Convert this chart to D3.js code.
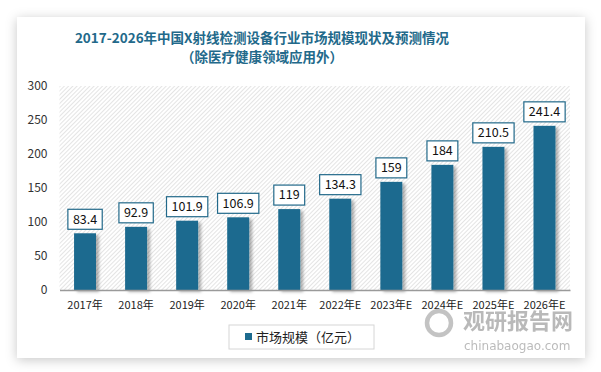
<!DOCTYPE html>
<html>
<head>
<meta charset="utf-8">
<script src="https://cdn.jsdelivr.net/npm/d3@7"></script>
<style>
  body { margin: 0; background: #fff; }
  svg { display: block; }
</style>
</head>
<body>
<div id="chart"></div>
<script>
// data
var years = ["2017年", "2018年", "2019年", "2020年", "2021年", "2022年E", "2023年E", "2024年E", "2025年E", "2026年E"];
var marketSize = [83.4, 92.9, 101.9, 106.9, 119, 134.3, 159, 184, 210.5, 241.4];
var yTicks = [0, 50, 100, 150, 200, 250, 300];
var seriesName = "市场规模（亿元）";
var titleLines = ["2017-2026年中国X射线检测设备行业市场规模现状及预测情况", "（除医疗健康领域应用外）"];

var svgWidth = 601, svgHeight = 372;
var margin = { top: 86, right: 31, bottom: 82, left: 59.5 };
var width = svgWidth - margin.left - margin.right;
var height = svgHeight - margin.top - margin.bottom;
var font = "'Microsoft YaHei', 'Noto Sans CJK SC', sans-serif";

var svg = d3.select("#chart").append("svg")
  .attr("width", svgWidth)
  .attr("height", svgHeight);

var defs = svg.append("defs");

// card shadow
var cs = defs.append("filter").attr("id", "cardShadow")
  .attr("x", "-10%").attr("y", "-10%").attr("width", "120%").attr("height", "120%");
cs.append("feDropShadow").attr("dx", 0).attr("dy", 2).attr("stdDeviation", 6)
  .attr("flood-color", "#000").attr("flood-opacity", 0.22);

// bar shadow
var bs = defs.append("filter").attr("id", "barShadow")
  .attr("x", "-30%").attr("y", "-10%").attr("width", "160%").attr("height", "120%");
bs.append("feDropShadow").attr("dx", 3).attr("dy", 2).attr("stdDeviation", 1.5)
  .attr("flood-color", "#000").attr("flood-opacity", 0.3);

// diagonal hatch
var pat = defs.append("pattern").attr("id", "hatch")
  .attr("patternUnits", "userSpaceOnUse")
  .attr("width", 3).attr("height", 3)
  .attr("patternTransform", "rotate(45)");
pat.append("rect").attr("width", 3).attr("height", 3).attr("fill", "#fff");
pat.append("line").attr("x1", 0).attr("y1", 0).attr("x2", 0).attr("y2", 3)
  .attr("stroke", "#d2d2d2").attr("stroke-width", 1.2);

// card
svg.append("rect")
  .attr("x", 17).attr("y", 17).attr("width", 568).attr("height", 341)
  .attr("fill", "#fff")
  .attr("filter", "url(#cardShadow)");

// title
svg.selectAll(".title")
  .data(titleLines)
  .enter().append("text")
  .attr("class", "title")
  .attr("x", 262)
  .attr("y", function(d, i) { return 43 + i * 19; })
  .attr("text-anchor", "middle")
  .attr("font-family", font)
  .attr("font-size", "13.5px")
  .attr("font-weight", "bold")
  .attr("fill", "#22698a")
  .text(function(d) { return d; });

var g = svg.append("g")
  .attr("transform", "translate(" + margin.left + "," + margin.top + ")");

var xScale = d3.scaleBand().domain(years).range([0, width]).paddingInner(0.57).paddingOuter(0.285);
var yScale = d3.scaleLinear().domain([0, 300]).range([height, 0]);

// plot background
g.append("rect")
  .attr("width", width).attr("height", height)
  .attr("fill", "url(#hatch)");

// watermark
var wm = svg.append("g").attr("opacity", 0.8);
wm.append("circle").attr("cx", 439).attr("cy", 323).attr("r", 12)
  .attr("fill", "none").attr("stroke", "#b5b5b5").attr("stroke-width", 4.5);
wm.append("text").attr("x", 463).attr("y", 329)
  .attr("font-family", font).attr("font-size", "22px").attr("font-weight", "bold")
  .attr("fill", "#a8a8a8").text("观研报告网");
wm.append("text").attr("x", 464).attr("y", 350)
  .attr("font-family", "'DejaVu Sans', sans-serif").attr("font-size", "12px")
  .attr("fill", "#ababab").text("chinabaogao.com");

// y axis
var leftAxis = d3.axisLeft(yScale).tickValues(yTicks).tickSize(0).tickPadding(12);
var yAxis = g.append("g").call(leftAxis);
yAxis.select(".domain").remove();
yAxis.selectAll("text")
  .attr("font-family", font).attr("font-size", "12px").attr("fill", "#333");

// bars
g.selectAll(".bar")
  .data(marketSize)
  .enter().append("rect")
  .attr("class", "bar")
  .attr("x", function(d, i) { return xScale(years[i]); })
  .attr("y", function(d) { return yScale(d); })
  .attr("width", xScale.bandwidth())
  .attr("height", function(d) { return height - yScale(d); })
  .attr("fill", "#1d6b8f")
  .attr("filter", "url(#barShadow)");

// x axis
var bottomAxis = d3.axisBottom(xScale).tickSize(0).tickPadding(11);
var xAxis = g.append("g")
  .attr("transform", "translate(0," + height + ")")
  .call(bottomAxis);
xAxis.select(".domain").attr("stroke", "#9a9a9a").attr("stroke-width", 1.5);
xAxis.selectAll("text")
  .attr("font-family", font).attr("font-size", "11px").attr("fill", "#222");

// value labels in boxes
var labels = g.selectAll(".lbl")
  .data(marketSize)
  .enter().append("g")
  .attr("class", "lbl")
  .attr("transform", function(d, i) {
    return "translate(" + (xScale(years[i]) + xScale.bandwidth() / 2) + "," + (yScale(d) - 14) + ")";
  });
labels.append("text")
  .attr("text-anchor", "middle")
  .attr("dy", "0.35em")
  .attr("font-family", font).attr("font-size", "12.5px").attr("fill", "#111")
  .text(function(d) { return d; });
labels.each(function() {
  var t = d3.select(this).select("text");
  var bb = t.node().getBBox();
  d3.select(this).insert("rect", "text")
    .attr("x", bb.x - 5).attr("y", -10)
    .attr("width", bb.width + 10).attr("height", 20)
    .attr("fill", "#fff")
    .attr("stroke", "#22698a").attr("stroke-width", 1.2);
});

// legend
var legend = svg.append("g").attr("transform", "translate(229,325)");
legend.append("rect").attr("width", 145).attr("height", 24)
  .attr("fill", "#fff").attr("stroke", "#d6d6d6");
legend.append("rect").attr("x", 16).attr("y", 8).attr("width", 7).attr("height", 7)
  .attr("fill", "#1d6b8f");
legend.append("text").attr("x", 27).attr("y", 17)
  .attr("font-family", font).attr("font-size", "13px").attr("fill", "#222")
  .text(seriesName);
</script>
</body>
</html>
